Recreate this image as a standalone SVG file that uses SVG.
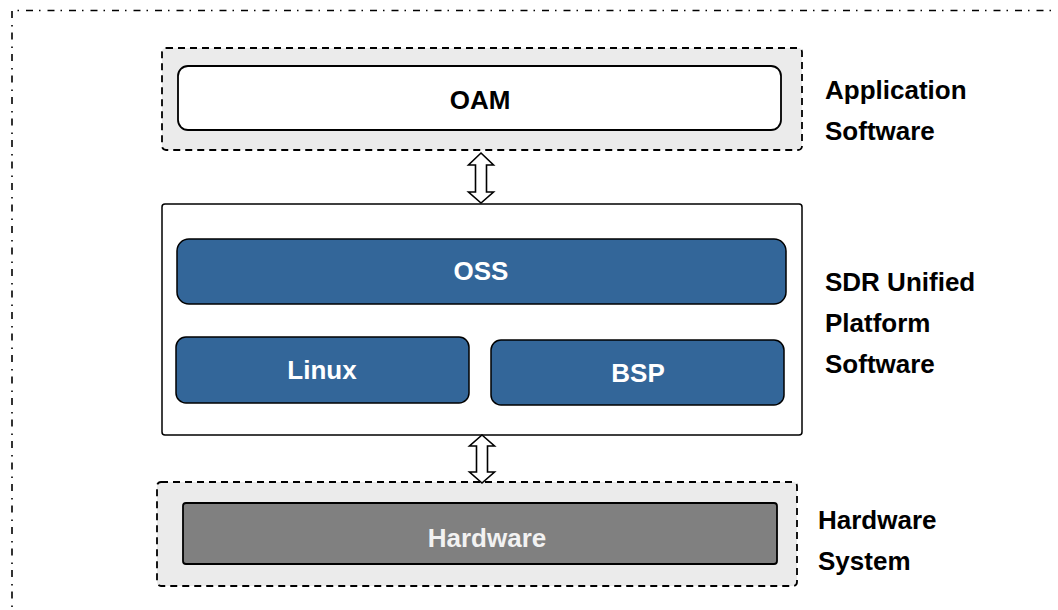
<svg xmlns="http://www.w3.org/2000/svg" width="1058" height="610" viewBox="0 0 1058 610">
<style>
.frame{fill:none;stroke:#000;stroke-width:1.6;stroke-dasharray:7 6 1.5 7}
.grp{fill:#ebebeb;stroke:#000;stroke-width:1.8;stroke-dasharray:7 5}
.plat{fill:#fff;stroke:#000;stroke-width:1.5}
.white{fill:#fff;stroke:#000;stroke-width:1.8}
.blue{fill:#336699;stroke:#000;stroke-width:1.5}
.hw{fill:#808080;stroke:#000;stroke-width:1.8}
.arrow{fill:#fff;stroke:#000;stroke-width:1.6;stroke-linejoin:miter}
text{font-family:"Liberation Sans",Arial,sans-serif;font-weight:bold;font-size:26px}
.c{text-anchor:middle}
.lt{fill:#fff}
</style>
<rect width="1058" height="610" fill="#fff"/>
<path class="frame" d="M12 620 V10.5 H1070"/>
<g id="app-group">
<rect class="grp" x="162" y="48" width="640" height="102" rx="4"/>
</g>
<g id="oam">
<rect class="white" x="178" y="66" width="603" height="64" rx="10"/>
<text class="c" x="480" y="109">OAM</text>
</g>
<g id="platform">
<rect class="plat" x="162" y="204" width="640" height="231" rx="3"/>
</g>
<g id="oss">
<rect class="blue" x="177" y="239" width="609" height="65" rx="12"/>
<text class="c lt" x="481" y="280">OSS</text>
</g>
<g id="linux">
<rect class="blue" x="176" y="337" width="293" height="66" rx="10"/>
<text class="c lt" x="322" y="379">Linux</text>
</g>
<g id="bsp">
<rect class="blue" x="491" y="340" width="293" height="65" rx="10"/>
<text class="c lt" x="638" y="382">BSP</text>
</g>
<g id="hw-group">
<rect class="grp" x="157" y="482" width="640" height="104" rx="4"/>
</g>
<g id="hardware">
<rect class="hw" x="183" y="503" width="594" height="61" rx="3"/>
<text class="c" x="487" y="547" fill="#f2f2f2">Hardware</text>
</g>
<g id="connectors">
<path class="arrow" d="M481 153 L493.5 165 H486.5 V192 H493.5 L481 203 L468.5 192 H475.5 V165 H468.5 Z"/>
<path class="arrow" d="M482 435 L494.5 446 H487.5 V472 H494.5 L482 483 L469.5 472 H476.5 V446 H469.5 Z"/>
</g>
<g id="labels">
<text x="825" y="99">Application</text>
<text x="825" y="140">Software</text>
<text x="825" y="291">SDR Unified</text>
<text x="825" y="332">Platform</text>
<text x="825" y="373">Software</text>
<text x="818" y="529">Hardware</text>
<text x="818" y="570">System</text>
</g>
</svg>
